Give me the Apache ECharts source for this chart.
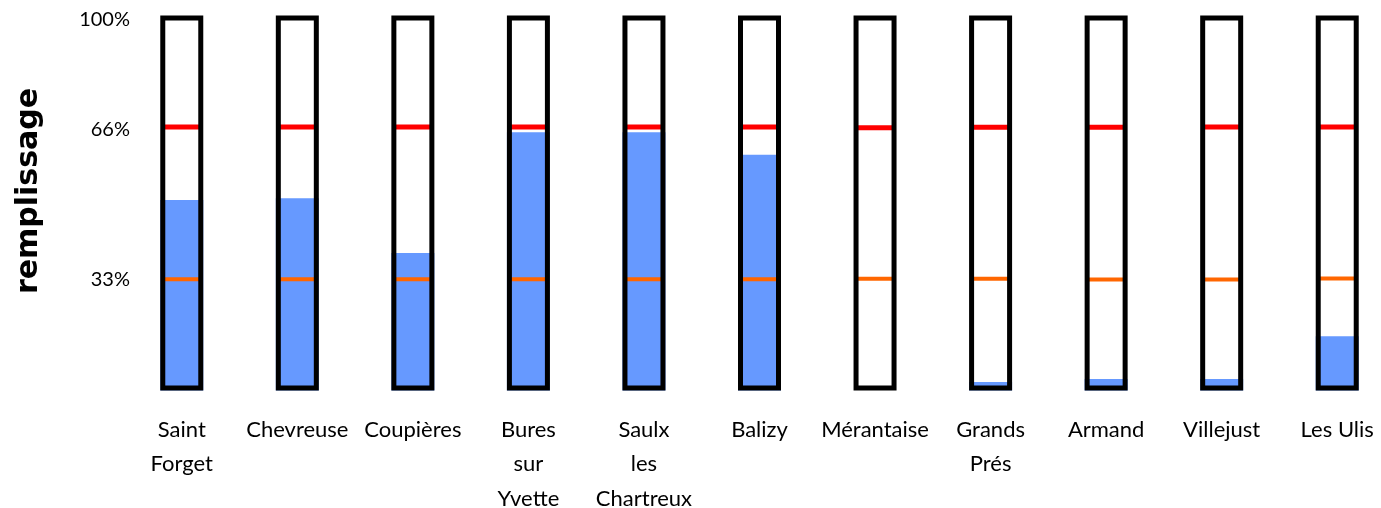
<!DOCTYPE html>
<html>
<head>
<meta charset="utf-8">
<script src="https://cdn.jsdelivr.net/npm/echarts@6/dist/echarts.min.js"></script>
<style>
html,body{margin:0;padding:0;background:#fff;}
#chart{width:1381px;height:508px;}
</style>
</head>
<body>
<div id="chart"></div>
<script>
// ---- data ----
const categories = ['Saint\nForget', 'Chevreuse', 'Coupières', 'Bures\nsur\nYvette', 'Saulx\nles\nChartreux', 'Balizy', 'Mérantaise', 'Grands\nPrés', 'Armand', 'Villejust', 'Les Ulis'];
const fillLevel = [50.8, 51.3, 36.7, 68.9, 68.9, 62.9, 0, 2.3, 3.1, 3.1, 14.5];
const capacity = [100, 100, 100, 100, 100, 100, 100, 100, 100, 100, 100];
const highMark = [70.3, 70.3, 70.3, 70.3, 70.3, 70.3, 70.1, 70.2, 70.2, 70.3, 70.3];
const lowMark = [29.7, 29.7, 29.7, 29.7, 29.7, 29.7, 29.8, 29.8, 29.6, 29.6, 29.9];
const tickLabels = ['33%', '66%', '100%'];
const tickPositions = [29.7, 69.5, 98.8];
const axisTitle = 'remplissage';

const FONT = 'Lato';
const chart = echarts.init(document.getElementById('chart'), null, {renderer: 'canvas'});
chart.setOption({
  animation: false,
  backgroundColor: '#ffffff',
  grid: {left: 124, width: 1271, top: 15.5, height: 375, containLabel: false, outerBoundsMode: 'none'},
  xAxis: {
    type: 'category',
    data: categories,
    axisLine: {show: false},
    axisTick: {show: false},
    splitLine: {show: false},
    axisLabel: {
      interval: 0,
      margin: 22,
      color: '#000',
      fontFamily: FONT,
      fontSize: 22,
      lineHeight: 34.5,
      verticalAlign: 'top'
    }
  },
  yAxis: {
    type: 'value',
    min: 0,
    max: 100,
    name: axisTitle,
    nameLocation: 'middle',
    nameGap: 80,
    nameRotate: 90,
    nameTextStyle: {
      fontFamily: 'DejaVu Sans',
      fontWeight: 'bold',
      fontSize: 30,
      color: '#000',
      padding: [0, 0, 0, 24]
    },
    axisLine: {show: false},
    axisTick: {show: false},
    splitLine: {show: false},
    axisLabel: {
      customValues: tickPositions,
      margin: -6,
      color: '#000',
      fontFamily: FONT,
      fontSize: 20,
      formatter: function (v) {
        const i = tickPositions.indexOf(v);
        return i >= 0 ? tickLabels[i] : '';
      }
    }
  },
  series: [
    {
      name: 'fill',
      type: 'bar',
      data: fillLevel,
      barWidth: 43,
      barGap: '-100%',
      itemStyle: {color: '#6699ff'},
      z: 2
    },
    {
      name: 'high',
      type: 'scatter',
      data: highMark,
      symbol: 'rect',
      symbolSize: [38, 5],
      itemStyle: {color: '#ff0000', opacity: 1},
      z: 3
    },
    {
      name: 'low',
      type: 'scatter',
      data: lowMark,
      symbol: 'rect',
      symbolSize: [38, 4],
      itemStyle: {color: '#ff6600', opacity: 1},
      z: 3
    },
    {
      name: 'tank',
      type: 'bar',
      data: capacity,
      barWidth: 43,
      barGap: '-100%',
      clip: false,
      itemStyle: {color: 'rgba(0,0,0,0)', borderColor: '#000', borderWidth: 5},
      z: 4
    }
  ]
});
</script>
</body>
</html>
